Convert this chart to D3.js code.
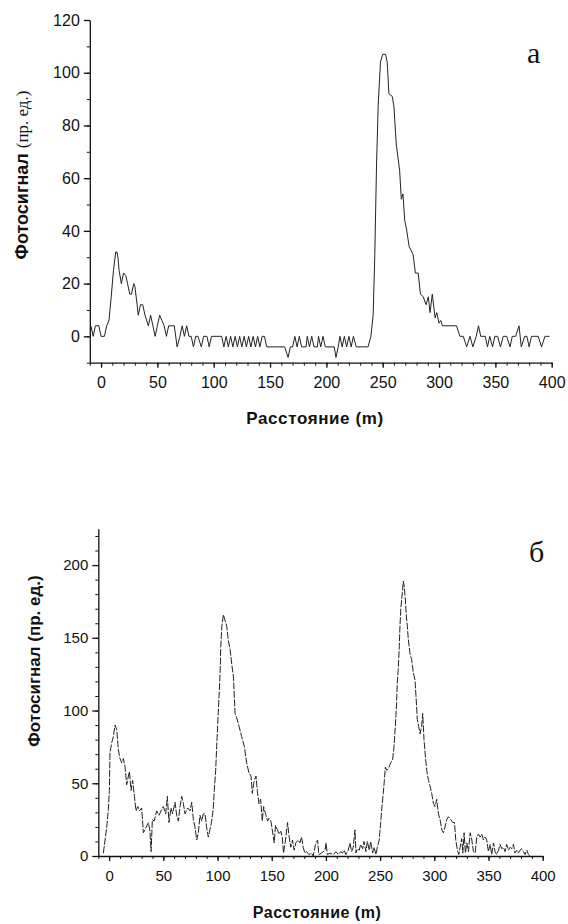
<!DOCTYPE html>
<html lang="ru">
<head>
    <meta charset="UTF-8">
    <title>Фотосигнал vs Расстояние</title>
    <style>
        body { margin: 0; background: #fff; }
        svg { display: block; }
        .tick text { font-family: "Liberation Sans", Arial, sans-serif; fill: #111; }
        .domain, .tick line { stroke: #111; stroke-width: 1.3; }
        .minor .domain { stroke: none; }
        .minor .tick line { stroke-width: 1; }
        .title { font-family: "Liberation Sans", Arial, sans-serif; font-weight: bold; fill: #111; }
        .serif { font-family: "Liberation Serif", "Times New Roman", serif; fill: #111; }
    </style>
</head>
<body>
<div id="chart"></div>
<script src="https://d3js.org/d3.v7.min.js"></script>
<script>
    // panel (a): distance (m) / photo-signal (arb. units)
    const distA = [-9,-7,-5,-2,0,3,5,7,9,11,13,14,15,16,18,20,22,23.5,25.5,27,29,30,32,33,35,37,39,42,44,46,48,50,52,54,56,58,60,65,67.5,70,72,74,76,78,80,82,84,86,89,91,94,96,98,107,109,111,113,115,117,119,121,123,125,127,129,131,133,135,137,139,141,143,145,147,163,166,168,170,172,174,176,178,182,183,185,187,189,192,193,195,197,199,207,208.5,210.5,212,214,216,218,220,222,224,226.5,237,239.5,241.5,243,244.5,246,248,250,252.5,254,255.5,258.5,260,262,265,266.5,268,269.5,271,273.5,277,279,281.5,283.5,286,288.5,290.5,292,294,296.5,298,300,301.5,303,313,315.5,318.5,321.5,324.5,327.5,330,333,335,337,341,343,345,347.5,349.5,352,354.5,357,360,363,365,368,371,373,376,378,380,382,385,388,391,394,398];
    const signalA = [4,0,4,4,0,0,4,6,15,25,32,32,30,25,20,24,23,20,16,16,20,19,12,8,12,12,8,4,8,4,0,4,8,6,4,0,4,4,-4,0,4,0,4,0,0,-4,0,0,-4,0,0,-4,0,0,-4,0,-4,0,-4,0,-4,0,-4,0,-4,0,-4,0,-4,0,-4,0,0,-4,-4,-8,-4,-4,0,-4,0,-4,-4,0,-4,0,-4,-4,0,-4,0,-4,-4,-8,-4,0,-4,0,-4,0,-4,0,-4,-4,0,8,31,65,88,104,107,107,104,92,91,87,73,63,52,54,44,41,34,31,24,24,16,15,12,15,9,16,7,9,5,6,4,4,4,0,0,-4,0,-4,0,4,0,0,-4,0,-4,0,0,-4,0,0,-4,0,0,4,-4,0,0,-4,0,0,0,-4,0,0];

    // panel (б)
    const distB = [-5.3,-3.8,-2.2,-0.7,0.2,0.8,2.4,3.9,5.4,7,8.5,10,11.6,13.1,14.7,16.2,17.8,18.7,20.2,21.7,23.3,24.8,26.4,27.9,30,31.6,33.1,36.2,37.7,38.7,39.9,41.5,43.9,46,47.9,50,52.2,53.7,55.2,57,58.6,60.8,62.3,63.9,65.4,67,68.5,70,72.5,74.6,76.2,77.7,79.2,80.8,82.3,83.8,85.4,86.9,88.4,89.9,91.5,93,94.6,96.1,97,98.3,99.2,100.2,101.4,102.4,103,104,105.4,106.5,108.5,110,111.6,113.1,114.7,116.2,117.7,119.9,122.3,124.8,126.9,129,130.9,132.1,133.9,135.5,136.7,138.2,139.8,141.3,142.5,144.3,146.2,147.4,149.2,150.5,152.3,153.5,155.4,156.6,158.4,159.7,160.9,162.7,164.6,166.1,167.6,169.2,170.7,172.2,174.4,175.9,177.5,179,180.6,182.1,184.3,186.7,188.3,190.4,192.3,193.4,196,199.2,200.1,201.3,203.8,206.9,209.3,211.4,213.6,215.4,216.7,218.5,220.6,222.2,223.7,225.2,226.8,227.7,228.9,230.8,232,233.9,235.1,236.9,238.2,240,241.3,243.1,244.3,246.2,247.4,249.2,250.5,251.7,252.9,253.9,254.8,256,257.6,259.7,261.5,262.8,264,265.2,265.8,266.7,267.7,268.3,269.2,270.5,271.4,272.3,273.3,274.2,275.1,276,277.6,279.1,280.6,282.2,283.1,284.3,285.6,286.8,288.3,289.3,290.5,291.8,293,294.6,296.1,297.6,299.2,300.7,302.2,303.8,305.3,306.9,308.4,309.9,311.5,313,315.2,317,318.6,319.8,321.3,322.6,323.8,325.3,326.3,327.5,328.7,330,331.5,333.1,334.6,336.1,337.7,339.2,340.7,342.3,343.8,345.3,346.9,348.4,349.9,351.5,353,354.6,356.1,357.6,359.2,360.7,362.2,363.8,365.3,366.8,368.4,369.9,371.4,373,374.5,376,377.6,379.1,380.6,382.2,383.7,385.3,386.8,388.3];
    const signalB = [2,11,20,32,45,71,78,82,90,87,73,67,64,67,61,49,55,58,45,52,41,31,34,31,33,16,18,23,17,3,25,24,31,28,31,34,29,41,23,33,29,37,28,24,34,41,36,29,33,31,37,25,20,11,16,28,24,29,29,20,13,18,24,33,45,59,75,91,110,126,144,158,166,163,158,148,142,132,123,98,95,89,82,75,64,57,55,43,52,55,45,36,39,24,34,29,24,26,24,18,9,21,18,15,17,13,2,11,23,13,6,11,4,9,11,9,13,6,2,3,1,2,0,8,11,1,2,4,9,1,2,1,3,1,3,2,4,1,4,9,3,6,18,2,5,4,8,5,10,3,10,4,10,2,6,1,6,11,23,34,43,52,61,59,60,64,66,75,89,105,119,128,144,158,171,181,189,185,176,165,158,149,139,135,126,121,110,94,89,84,89,98,80,68,59,52,48,43,36,34,39,29,25,18,16,20,25,27,25,23,23,11,4,1,6,12,2,16,2,9,3,16,11,3,2,13,15,13,15,11,13,11,3,8,1,9,3,1,4,8,5,6,3,8,4,6,5,8,2,4,2,4,5,3,1,4,1,0];

    // tick values
    const xMajor = [0, 50, 100, 150, 200, 250, 300, 350, 400];
    const xMinor = d3.range(-10, 401, 10);
    const yMajorA = [0, 20, 40, 60, 80, 100, 120];
    const yMinorA = d3.range(-10, 121, 10);
    const yMajorB = [0, 50, 100, 150, 200];
    const yMinorB = d3.range(0, 221, 10);

    const svg = d3.select("#chart").append("svg")
        .attr("width", 568)
        .attr("height", 924);

    function drawPanel(cfg) {
        const x = d3.scaleLinear().domain([-10, 400]).range(cfg.xr);
        const y = d3.scaleLinear().domain(cfg.yd).range(cfg.yr);
        const g = svg.append("g");

        // minor ticks first
        g.append("g").attr("class", "minor")
            .attr("transform", "translate(0," + cfg.yr[0] + ")")
            .call(d3.axisBottom(x).tickValues(xMinor).tickSize(3).tickFormat(""));
        g.append("g").attr("class", "minor")
            .attr("transform", "translate(" + cfg.xr[0] + ",0)")
            .call(d3.axisLeft(y).tickValues(cfg.yMinor).tickSize(3).tickFormat(""));

        g.append("g")
            .attr("transform", "translate(0," + cfg.yr[0] + ")")
            .call(d3.axisBottom(x).tickValues(xMajor).tickSize(5).tickSizeOuter(0).tickPadding(9))
            .selectAll("text").style("font-size", cfg.fs + "px");
        g.append("g")
            .attr("transform", "translate(" + cfg.xr[0] + ",0)")
            .call(d3.axisLeft(y).tickValues(cfg.yMajor).tickSize(6).tickSizeOuter(0).tickPadding(4))
            .selectAll("text").style("font-size", cfg.fs + "px");

        const line = d3.line()
            .x((d, i) => x(cfg.dist[i]))
            .y(d => y(d));

        g.append("path")
            .datum(cfg.sig)
            .attr("d", line)
            .attr("fill", "none")
            .attr("stroke", "#222")
            .attr("stroke-width", 1)
            .attr("stroke-dasharray", cfg.dash);
    }

    drawPanel({
        xr: [89.8, 551.7], yd: [-10, 120], yr: [362.7, 20],
        yMajor: yMajorA, yMinor: yMinorA, fs: 16,
        dist: distA, sig: signalA, dash: null
    });
    drawPanel({
        xr: [98.3, 542.7], yd: [0, 225], yr: [856, 528.7],
        yMajor: yMajorB, yMinor: yMinorB, fs: 15,
        dist: distB, sig: signalB, dash: "7,1.5"
    });

    // axis titles
    svg.append("text").attr("class", "title")
        .attr("x", 315).attr("y", 424)
        .attr("text-anchor", "middle").style("font-size", "17px").style("letter-spacing", "0.6px")
        .text("Расстояние (m)");
    svg.append("text").attr("class", "title")
        .attr("x", 317).attr("y", 918)
        .attr("text-anchor", "middle").style("font-size", "16px").style("letter-spacing", "0.5px")
        .text("Расстояние (m)");

    const ya = svg.append("text")
        .attr("transform", "translate(28,175) rotate(-90)")
        .attr("text-anchor", "middle");
    ya.append("tspan").attr("class", "title").style("font-size", "18px").text("Фотосигнал ");
    ya.append("tspan").attr("class", "serif").style("font-size", "17px").text("(пр. ед.)");

    svg.append("text").attr("class", "title")
        .attr("transform", "translate(40,661) rotate(-90)")
        .attr("text-anchor", "middle").style("font-size", "17px")
        .text("Фотосигнал (пр. ед.)");

    // panel letters
    svg.append("text").attr("class", "serif")
        .attr("x", 527).attr("y", 63).style("font-size", "30px").text("a");
    svg.append("text").attr("class", "serif")
        .attr("x", 529).attr("y", 562).style("font-size", "30px").text("б");
</script>
</body>
</html>
